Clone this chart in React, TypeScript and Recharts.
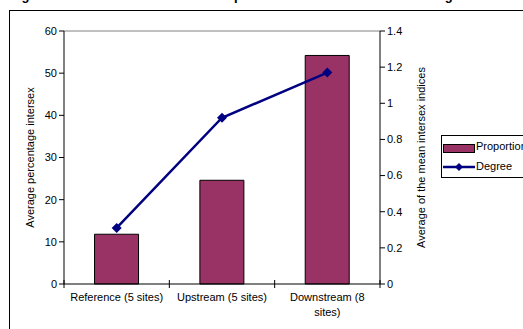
import { ComposedChart, Bar, Line, XAxis, YAxis } from "recharts"

const groups = ["Reference (5 sites)", "Upstream (5 sites)", "Downstream (8 sites)"]
const proportion = [11.8, 24.6, 54.2]
const degree = [0.31, 0.92, 1.17]
const leftTicks = [0, 10, 20, 30, 40, 50, 60]
const rightTicks = [0, 0.2, 0.4, 0.6, 0.8, 1, 1.2, 1.4]

const data = groups.map((name, i) => ({ name, proportion: proportion[i], degree: degree[i] }))

const FONT = "'Liberation Sans', Arial, sans-serif"
const PLOT_LEFT = 64
const PLOT_RIGHT = 380
const PLOT_TOP = 31
const PLOT_BOTTOM = 284
const BAND = (PLOT_RIGHT - PLOT_LEFT) / groups.length

// category ticks sit between the columns, with the label wrapped to the band width
function CategoryTick(props: any) {
  const { x, payload, index } = props
  const words: string[] = String(payload.value).split(" ")
  const lines: string[] = []
  let cur = ""
  for (const w of words) {
    const next = cur ? cur + " " + w : w
    if (next.length > 19 && cur) {
      lines.push(cur)
      cur = w
    } else cur = next
  }
  if (cur) lines.push(cur)
  const left = x - BAND / 2
  return (
    <g>
      <line x1={left} x2={left} y1={PLOT_BOTTOM - 4} y2={PLOT_BOTTOM + 4} stroke="#000" />
      {index === groups.length - 1 && (
        <line x1={left + BAND} x2={left + BAND} y1={PLOT_BOTTOM - 4} y2={PLOT_BOTTOM + 4} stroke="#000" />
      )}
      <text x={x} y={PLOT_BOTTOM + 17} textAnchor="middle" fontSize={11} fill="#000" fontFamily={FONT}>
        {lines.map((l, i) => (
          <tspan key={i} x={x} dy={i === 0 ? 0 : 15}>
            {l}
          </tspan>
        ))}
      </text>
    </g>
  )
}

function Diamond(props: any) {
  const { cx, cy } = props
  if (cx == null || cy == null) return null
  const r = 5
  return <path d={`M${cx},${cy - r}L${cx + r},${cy}L${cx},${cy + r}L${cx - r},${cy}Z`} fill="#000080" />
}

function LegendBox() {
  return (
    <div
      style={{
        position: "absolute",
        left: 441,
        top: 135,
        border: "1px solid #000",
        background: "#fff",
        width: 110,
        height: 41,
        fontFamily: FONT,
        fontSize: 11,
        color: "#000",
      }}
    >
      <div style={{ position: "absolute", left: 1, top: 8, width: 30, height: 7, background: "#993366", border: "1px solid #000" }} />
      <div style={{ position: "absolute", left: 34, top: 4, lineHeight: "13px" }}>Proportion</div>
      <svg style={{ position: "absolute", left: 0, top: 26 }} width={34} height={10}>
        <line x1={1} x2={33} y1={5} y2={5} stroke="#000080" strokeWidth={2.5} />
        <path d="M17,1L21,5L17,9L13,5Z" fill="#000080" />
      </svg>
      <div style={{ position: "absolute", left: 34, top: 24, lineHeight: "13px" }}>Degree</div>
    </div>
  )
}

export default function App() {
  return (
    <div style={{ position: "fixed", left: 0, top: 0, width: 523, height: 329, overflow: "hidden", background: "#fff" }}>
      <div
        style={{
          position: "absolute",
          left: 10,
          top: -11,
          fontFamily: FONT,
          fontWeight: "bold",
          fontSize: 13,
          lineHeight: "13px",
          whiteSpace: "nowrap",
        }}
      >
        Figure 3 Combined column and line plot of intersex incidence in the region
      </div>
      <div style={{ position: "absolute", left: 9, top: 10, width: 600, height: 400, border: "1px solid #000" }} />
      <div style={{ position: "absolute", left: 0, top: 0 }}>
        <ComposedChart
          width={523}
          height={329}
          data={data}
          margin={{ top: PLOT_TOP, right: 523 - PLOT_RIGHT - 50, bottom: 0, left: 10 }}
          barCategoryGap="29%"
        >
          <XAxis
            dataKey="name"
            height={329 - PLOT_BOTTOM}
            tick={<CategoryTick />}
            tickLine={false}
            interval={0}
            axisLine={{ stroke: "#000" }}
          />
          <YAxis
            yAxisId="left"
            width={PLOT_LEFT - 10}
            domain={[0, 60]}
            ticks={leftTicks}
            interval={0}
            tick={{ fontSize: 11, fill: "#000", fontFamily: FONT }}
            tickLine={{ stroke: "#000" }}
            tickSize={5}
            axisLine={{ stroke: "#000" }}
            label={{
              value: "Average percentage intersex",
              angle: -90,
              position: "center",
              dx: -7,
              style: { fontSize: 11, fill: "#000", fontFamily: FONT, textAnchor: "middle" },
            }}
          />
          <YAxis
            yAxisId="right"
            orientation="right"
            width={50}
            domain={[0, 1.4]}
            ticks={rightTicks}
            interval={0}
            tick={{ fontSize: 11, fill: "#000", fontFamily: FONT }}
            tickLine={{ stroke: "#000" }}
            tickSize={5}
            axisLine={{ stroke: "#000" }}
            label={{
              value: "Average of the mean intersex indices",
              angle: -90,
              position: "center",
              dx: 16,
              style: { fontSize: 11, fill: "#000", fontFamily: FONT, textAnchor: "middle" },
            }}
          />
          <line x1={PLOT_LEFT} x2={PLOT_RIGHT} y1={PLOT_TOP} y2={PLOT_TOP} stroke="#808080" />
          <Bar
            yAxisId="left"
            dataKey="proportion"
            name="Proportion"
            fill="#993366"
            stroke="#000"
            strokeWidth={1}
            isAnimationActive={false}
          />
          <Line
            yAxisId="right"
            dataKey="degree"
            name="Degree"
            stroke="#000080"
            strokeWidth={2.5}
            dot={<Diamond />}
            activeDot={false}
            isAnimationActive={false}
          />
        </ComposedChart>
      </div>
      <LegendBox />
    </div>
  )
}
